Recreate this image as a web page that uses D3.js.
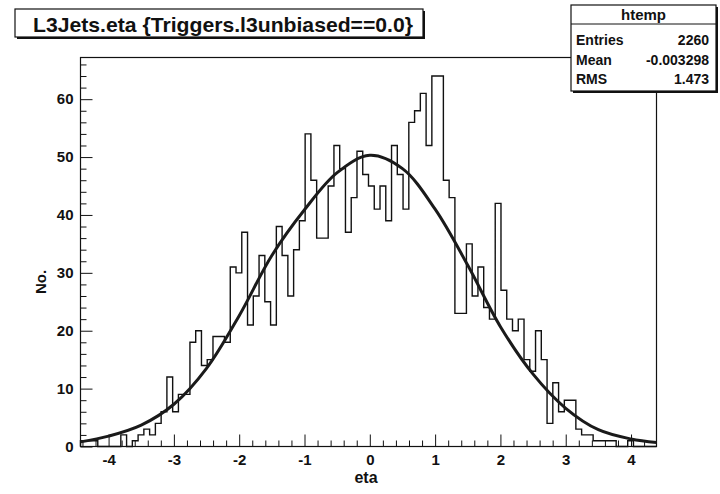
<!DOCTYPE html>
<html>
<head>
<meta charset="utf-8">
<script src="https://d3js.org/d3.v7.min.js"></script>
<style>
body{margin:0;background:#fff}
text{font-family:"Liberation Sans",Arial,Helvetica,sans-serif;font-weight:bold;fill:#111}
</style>
</head>
<body>
<div id="chart"></div>
<script>
// axis range of htemp and its y maximum (1.05 * highest bin)
var etaRange = [-4.43, 4.39]
var yMaxValue = 67.2

// 100 bins left to right
var binCounts = [1,1,1,0,0,0,0,2,0,1,
                 2,3,2,4,6,12,6,9,9,18,
                 20,14,15,19,19,18,31,30,37,21,
                 26,33,25,21,38,33,26,34,39,54,
                 46,36,36,45,52,48,37,43,51,47,
                 45,41,45,39,52,47,41,56,58,61,
                 52,64,64,46,43,23,23,35,26,31,
                 24,22,42,27,22,20,22,15,13,20,
                 15,4,11,6,8,8,3,2,2,1,
                 1,1,1,0,0,1,0,0,0,0]

// gaussian fit curve
var fitEta    = [-4.43,-4,-3.5,-3,-2.5,-2,-1.5,-1,-0.5,0,0.5,1,1.5,2,2.5,3,3.5,4,4.39]
var fitValues = [0.8,1.8,3.7,7.3,13.5,22.6,33.0,40.9,47.3,50.3,48.0,41.0,31.3,20.7,12.5,6.6,2.9,1.3,0.7]

var xTickLabels = [-4,-3,-2,-1,0,1,2,3,4]
var yTickLabels = [0,10,20,30,40,50,60]

var titleText = "L3Jets.eta {Triggers.l3unbiased==0.0}"
var xTitle = "eta"
var yTitle = "No."
var statsName = "htemp"
var statsLabels = ["Entries","Mean","RMS"]
var statsValues = ["2260","-0.003298","1.473"]

drawHistogram()

function drawHistogram(){
    var width = 720, height = 494
    var frame = {left:80.5, right:656.5, top:57.5, bottom:446.5}
    var ink = "#111"

    var svg = d3.select("#chart").append("svg").attr("width",width).attr("height",height)
    svg.append("rect").attr("width",width).attr("height",height).attr("fill","#fff")

    var x = d3.scaleLinear().domain(etaRange).range([frame.left,frame.right])
    var y = d3.scaleLinear().domain([0,yMaxValue]).range([frame.bottom,frame.top])

    // minor ticks every 0.2 in eta, every 2 in counts
    var xMinor = d3.range(-22,23).map(function(k){return Math.round(k*2)/10})
        .filter(function(v){return v>etaRange[0] && v<etaRange[1] && xTickLabels.indexOf(v)<0})
    var yMinor = d3.range(1,34).map(function(k){return k*2})
        .filter(function(v){return v<yMaxValue && v%10!=0})

    var axes = svg.append("g")
    axes.append("g").attr("transform","translate(0,"+frame.bottom+")")
        .call(d3.axisBottom(x).tickValues(xMinor).tickSize(-6).tickFormat(""))
    axes.append("g").attr("class","xaxis").attr("transform","translate(0,"+frame.bottom+")")
        .call(d3.axisBottom(x).tickValues(xTickLabels).tickSize(-12).tickPadding(8)
            .tickFormat(function(d){return String(d)}))
    axes.append("g").attr("transform","translate("+frame.left+",0)")
        .call(d3.axisLeft(y).tickValues(yMinor).tickSize(-6).tickFormat(""))
    axes.append("g").attr("class","yaxis").attr("transform","translate("+frame.left+",0)")
        .call(d3.axisLeft(y).tickValues(yTickLabels).tickSize(-12).tickPadding(7))
    axes.selectAll(".domain").remove()
    axes.selectAll("line").attr("stroke",ink).attr("stroke-width",1)
    axes.selectAll("text").attr("font-family",null).attr("font-size",15).attr("fill",ink)

    // frame
    svg.append("rect")
        .attr("x",frame.left).attr("y",frame.top)
        .attr("width",frame.right-frame.left).attr("height",frame.bottom-frame.top)
        .attr("fill","none").attr("stroke",ink).attr("stroke-width",1.2)

    // histogram outline
    var binWidth = (etaRange[1]-etaRange[0])/binCounts.length
    var pts = [[etaRange[0],0]]
    for(var i in binCounts){
        pts.push([etaRange[0]+i*binWidth, binCounts[i]])
    }
    pts.push([etaRange[1], binCounts[binCounts.length-1]])
    pts.push([etaRange[1],0])
    var step = d3.line()
        .x(function(d){return x(d[0])})
        .y(function(d){return y(d[1])})
        .curve(d3.curveStepAfter)
    svg.append("path").attr("d",step(pts))
        .attr("fill","none").attr("stroke",ink).attr("stroke-width",1.4)

    // fit
    var fitPts = fitEta.map(function(e,i){return [e,fitValues[i]]})
    var smooth = d3.line()
        .x(function(d){return x(d[0])})
        .y(function(d){return y(d[1])})
        .curve(d3.curveCatmullRom.alpha(0.5))
    svg.append("path").attr("d",smooth(fitPts))
        .attr("fill","none").attr("stroke","#1a1a1a").attr("stroke-width",3)

    // axis titles
    svg.append("text").attr("x",366).attr("y",483)
        .attr("text-anchor","middle").attr("font-size",16).text(xTitle)
    svg.append("text").attr("transform","translate(46,282) rotate(-90)")
        .attr("text-anchor","middle").attr("font-size",15).text(yTitle)

    // title pave
    var title = svg.append("g")
    title.append("rect").attr("x",17).attr("y",11).attr("width",408).attr("height",28).attr("fill",ink)
    title.append("rect").attr("x",15).attr("y",9).attr("width",408).attr("height",28)
        .attr("fill","#fff").attr("stroke",ink).attr("stroke-width",1.2)
    title.append("text").attr("x",33).attr("y",31.5).attr("font-size",21)
        .attr("textLength",380).attr("lengthAdjust","spacingAndGlyphs").text(titleText)

    // stats pave
    var stats = svg.append("g")
    var sx = 571, sy = 5, sw = 145, sh = 86
    stats.append("rect").attr("x",sx+2).attr("y",sy+2).attr("width",sw).attr("height",sh).attr("fill",ink)
    stats.append("rect").attr("x",sx).attr("y",sy).attr("width",sw).attr("height",sh)
        .attr("fill","#fff").attr("stroke",ink).attr("stroke-width",1.2)
    stats.append("line").attr("x1",sx).attr("x2",sx+sw).attr("y1",sy+19).attr("y2",sy+19)
        .attr("stroke",ink).attr("stroke-width",1)
    stats.append("text").attr("x",sx+sw/2).attr("y",sy+15).attr("text-anchor","middle")
        .attr("font-size",15).text(statsName)
    stats.selectAll(".slabel").data(statsLabels).enter().append("text")
        .attr("class","slabel").attr("x",sx+5)
        .attr("y",function(d,i){return sy+40+i*19.5})
        .attr("font-size",14).text(function(d){return d})
    stats.selectAll(".svalue").data(statsValues).enter().append("text")
        .attr("class","svalue").attr("x",sx+sw-7).attr("text-anchor","end")
        .attr("y",function(d,i){return sy+40+i*19.5})
        .attr("font-size",14).text(function(d){return d})
}
</script>
</body>
</html>
